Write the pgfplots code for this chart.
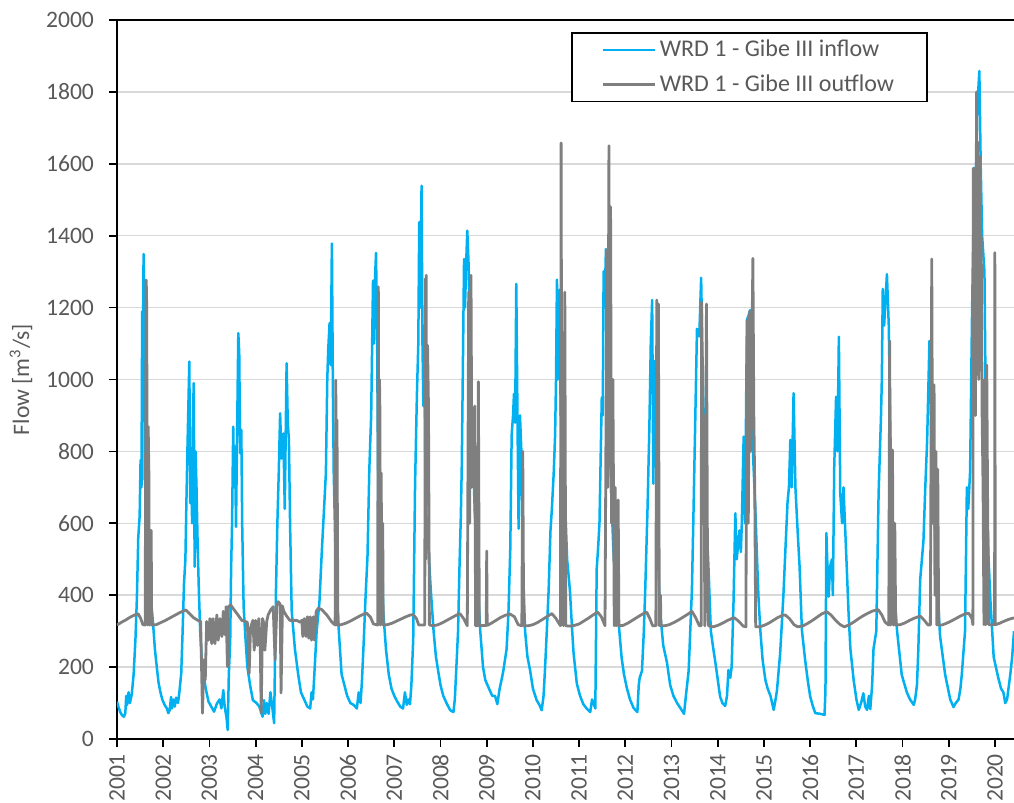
\documentclass[border=0pt]{standalone}
\usepackage{fontspec}
\setmainfont{Carlito}
\usepackage{pgfplots}
\usepackage{pgfplotstable}
\pgfplotsset{compat=1.18}

\definecolor{inflowblue}{HTML}{00B0F0}
\definecolor{outflowgray}{HTML}{7F7F7F}
\definecolor{labelgray}{HTML}{595959}
\definecolor{gridgray}{HTML}{D9D9D9}

% WRD 1 - Gibe III inflow (m3/s)
\pgfplotstableread{
t q
2001.000 104
2001.030 90
2001.070 75
2001.110 66
2001.150 62
2001.180 72
2001.200 120
2001.220 95
2001.250 130
2001.280 100
2001.320 125
2001.360 180
2001.400 280
2001.430 390
2001.460 560
2001.490 620
2001.510 776
2001.530 700
2001.545 1189
2001.560 1050
2001.575 1349
2001.590 1200
2001.600 720
2001.615 1150
2001.630 880
2001.650 750
2001.670 560
2001.700 430
2001.740 380
2001.780 322
2001.820 250
2001.860 201
2001.900 156
2001.940 130
2001.980 110
2002.030 95
2002.080 85
2002.110 72
2002.140 80
2002.170 117
2002.190 85
2002.220 110
2002.250 90
2002.280 115
2002.320 100
2002.350 130
2002.390 183
2002.420 300
2002.450 433
2002.480 500
2002.500 646
2002.520 780
2002.540 900
2002.565 1050
2002.585 656
2002.605 800
2002.625 600
2002.645 900
2002.660 990
2002.680 479
2002.700 800
2002.720 702
2002.745 540
2002.770 420
2002.800 300
2002.830 229
2002.870 183
2002.920 140
2002.980 104
2003.040 90
2003.100 76
2003.160 98
2003.220 110
2003.260 85
2003.300 136
2003.330 90
2003.370 60
2003.395 25
2003.420 180
2003.450 275
2003.470 480
2003.490 600
2003.515 869
2003.535 700
2003.555 813
2003.575 590
2003.600 860
2003.625 1129
2003.645 1073
2003.665 795
2003.690 860
2003.710 590
2003.740 368
2003.780 280
2003.820 201
2003.880 150
2003.940 108
2004.020 100
2004.080 90
2004.150 62
2004.180 108
2004.210 70
2004.240 100
2004.280 70
2004.320 130
2004.350 100
2004.400 44
2004.440 414
2004.470 600
2004.500 740
2004.530 906
2004.560 780
2004.600 850
2004.630 640
2004.670 1045
2004.695 880
2004.720 832
2004.745 600
2004.780 357
2004.850 250
2004.920 180
2004.980 130
2005.050 110
2005.120 90
2005.180 85
2005.210 130
2005.240 110
2005.270 180
2005.320 300
2005.380 380
2005.430 517
2005.480 640
2005.520 740
2005.550 1000
2005.570 1082
2005.600 1157
2005.625 1040
2005.650 1378
2005.670 1000
2005.690 740
2005.720 560
2005.750 414
2005.800 300
2005.860 180
2005.920 150
2005.980 120
2006.050 100
2006.120 95
2006.190 85
2006.230 130
2006.270 100
2006.300 160
2006.340 275
2006.380 400
2006.420 507
2006.460 750
2006.500 900
2006.540 1275
2006.560 1100
2006.580 1270
2006.605 1352
2006.630 1100
2006.655 600
2006.680 850
2006.700 500
2006.730 600
2006.760 357
2006.820 250
2006.880 180
2006.940 140
2007.000 120
2007.060 105
2007.130 90
2007.190 85
2007.230 130
2007.270 95
2007.300 110
2007.340 97
2007.370 150
2007.410 278
2007.450 710
2007.490 960
2007.520 1100
2007.540 1438
2007.565 1200
2007.590 1539
2007.610 1100
2007.630 926
2007.650 1150
2007.670 800
2007.700 600
2007.740 528
2007.790 414
2007.850 301
2007.900 230
2007.950 189
2008.000 150
2008.060 120
2008.130 100
2008.210 80
2008.280 75
2008.310 110
2008.340 190
2008.380 300
2008.410 473
2008.440 620
2008.460 757
2008.490 1100
2008.510 1335
2008.530 1200
2008.560 1340
2008.580 1414
2008.610 1313
2008.630 1150
2008.660 1000
2008.710 757
2008.750 600
2008.790 473
2008.860 301
2008.920 200
2008.970 164
2009.050 140
2009.120 120
2009.180 120
2009.230 97
2009.280 140
2009.330 170
2009.360 190
2009.430 250
2009.470 350
2009.510 528
2009.540 846
2009.570 900
2009.590 960
2009.615 880
2009.640 1266
2009.665 900
2009.690 585
2009.720 900
2009.750 800
2009.780 500
2009.830 301
2009.880 230
2009.940 190
2010.000 140
2010.080 108
2010.140 95
2010.190 80
2010.230 120
2010.260 190
2010.300 300
2010.340 414
2010.380 580
2010.410 640
2010.450 740
2010.480 846
2010.500 1000
2010.520 1278
2010.540 1000
2010.560 1100
2010.580 1250
2010.600 900
2010.630 1000
2010.660 800
2010.700 642
2010.740 500
2010.800 414
2010.850 300
2010.880 238
2010.950 154
2011.020 120
2011.090 97
2011.160 85
2011.240 75
2011.280 110
2011.310 100
2011.350 85
2011.380 473
2011.410 530
2011.440 600
2011.470 812
2011.490 950
2011.510 900
2011.530 1301
2011.550 1200
2011.580 1363
2011.600 1330
2011.620 1200
2011.650 900
2011.690 700
2011.740 528
2011.790 420
2011.850 330
2011.920 225
2011.970 180
2012.030 143
2012.100 110
2012.180 86
2012.260 75
2012.290 150
2012.310 170
2012.360 190
2012.400 300
2012.430 414
2012.480 642
2012.520 869
2012.550 1100
2012.580 1221
2012.605 710
2012.630 1051
2012.660 800
2012.690 642
2012.720 450
2012.750 356
2012.820 260
2012.900 213
2012.970 150
2013.040 120
2013.120 100
2013.190 86
2013.270 70
2013.310 120
2013.370 190
2013.440 414
2013.470 600
2013.510 869
2013.550 1141
2013.600 1120
2013.640 1283
2013.680 983
2013.730 699
2013.770 563
2013.800 473
2013.850 300
2013.910 245
2013.950 211
2014.050 118
2014.100 100
2014.160 92
2014.200 120
2014.230 192
2014.270 170
2014.300 200
2014.340 378
2014.380 628
2014.410 500
2014.440 540
2014.470 580
2014.500 520
2014.520 600
2014.560 841
2014.590 600
2014.630 1165
2014.670 1180
2014.700 1193
2014.730 900
2014.760 800
2014.810 650
2014.850 500
2014.880 396
2014.920 303
2014.970 220
2015.030 164
2015.080 140
2015.140 120
2015.210 81
2015.250 110
2015.280 134
2015.350 239
2015.420 400
2015.460 517
2015.510 660
2015.540 700
2015.570 832
2015.600 700
2015.640 962
2015.680 700
2015.730 573
2015.770 480
2015.820 303
2015.890 220
2015.950 160
2016.000 118
2016.060 90
2016.110 72
2016.220 70
2016.310 67
2016.330 134
2016.350 573
2016.380 450
2016.400 396
2016.430 480
2016.470 500
2016.490 400
2016.520 757
2016.560 952
2016.590 800
2016.620 1119
2016.650 684
2016.690 600
2016.720 700
2016.790 480
2016.830 350
2016.870 250
2016.940 164
2017.000 110
2017.050 81
2017.100 100
2017.150 127
2017.190 90
2017.230 81
2017.270 120
2017.300 83
2017.340 150
2017.370 251
2017.430 300
2017.480 684
2017.530 890
2017.550 1000
2017.570 1252
2017.600 1150
2017.620 1200
2017.660 1293
2017.700 1150
2017.730 900
2017.770 560
2017.800 444
2017.880 300
2017.980 179
2018.090 130
2018.160 110
2018.240 95
2018.270 110
2018.310 150
2018.340 250
2018.380 444
2018.450 550
2018.490 700
2018.530 829
2018.580 1107
2018.620 860
2018.670 700
2018.700 560
2018.740 444
2018.810 286
2018.920 179
2019.030 110
2019.100 89
2019.150 100
2019.210 110
2019.250 140
2019.280 179
2019.350 300
2019.390 700
2019.420 640
2019.460 745
2019.500 1165
2019.550 1588
2019.580 1500
2019.610 1744
2019.660 1858
2019.690 1588
2019.720 1400
2019.770 1300
2019.800 900
2019.820 684
2019.860 500
2019.900 384
2019.970 228
2020.070 170
2020.130 140
2020.180 130
2020.220 100
2020.260 110
2020.300 150
2020.330 180
2020.370 228
2020.410 300
}\inflow

% WRD 1 - Gibe III outflow (m3/s)
\pgfplotstableread{
t q
2001.000 317
2001.100 325
2001.200 332
2001.300 340
2001.400 346
2001.460 348
2001.510 336
2001.560 318
2001.610 317
2001.630 1277
2001.640 1240
2001.655 740
2001.665 317
2001.675 869
2001.690 740
2001.700 317
2001.720 580
2001.740 580
2001.750 317
2001.850 318
2001.950 324
2002.050 330
2002.150 337
2002.250 344
2002.350 351
2002.490 359
2002.560 350
2002.650 338
2002.750 330
2002.810 327
2002.850 72
2002.880 220
2002.910 164
2002.940 327
2002.980 275
2003.010 335
2003.050 265
2003.080 335
2003.120 265
2003.160 345
2003.190 275
2003.230 335
2003.270 285
2003.300 355
2003.340 290
2003.360 368
2003.390 201
2003.410 368
2003.460 373
2003.520 362
2003.590 350
2003.700 330
2003.820 325
2003.860 183
2003.890 310
2003.940 330
2003.970 247
2004.000 330
2004.040 260
2004.070 335
2004.100 265
2004.120 72
2004.150 335
2004.180 320
2004.200 247
2004.240 327
2004.270 345
2004.330 360
2004.380 368
2004.420 220
2004.460 373
2004.490 382
2004.530 375
2004.550 128
2004.580 370
2004.610 355
2004.670 342
2004.740 330
2004.890 330
2004.960 325
2005.000 330
2005.020 285
2005.050 335
2005.090 285
2005.120 340
2005.150 280
2005.180 340
2005.210 275
2005.250 340
2005.270 275
2005.310 355
2005.360 364
2005.430 360
2005.540 345
2005.650 325
2005.720 317
2005.735 998
2005.745 317
2005.760 887
2005.770 600
2005.780 317
2005.850 318
2005.950 322
2006.050 328
2006.150 335
2006.250 342
2006.350 348
2006.400 350
2006.480 340
2006.550 320
2006.640 317
2006.655 1258
2006.665 700
2006.680 1000
2006.690 906
2006.700 317
2006.715 740
2006.730 500
2006.750 600
2006.760 317
2006.850 318
2006.950 322
2007.050 328
2007.150 334
2007.250 340
2007.350 345
2007.410 346
2007.480 335
2007.530 317
2007.660 317
2007.670 1280
2007.680 500
2007.690 1290
2007.700 700
2007.720 1095
2007.740 926
2007.760 317
2007.850 315
2007.950 318
2008.050 324
2008.150 331
2008.250 338
2008.350 345
2008.420 349
2008.500 335
2008.580 315
2008.610 1243
2008.630 600
2008.660 1290
2008.680 700
2008.710 850
2008.740 926
2008.760 315
2008.800 315
2008.820 994
2008.840 315
2008.990 316
2009.000 523
2009.010 316
2009.100 322
2009.200 330
2009.300 338
2009.400 344
2009.500 348
2009.600 340
2009.680 318
2009.760 315
2009.780 800
2009.800 315
2009.900 315
2010.000 318
2010.100 324
2010.200 332
2010.300 340
2010.410 349
2010.500 335
2010.595 315
2010.610 1658
2010.625 700
2010.640 1000
2010.660 315
2010.690 1243
2010.710 315
2010.800 314
2010.900 316
2011.000 320
2011.100 328
2011.200 336
2011.300 345
2011.400 353
2011.480 340
2011.560 315
2011.600 1360
2011.620 700
2011.645 1650
2011.660 900
2011.680 1480
2011.700 600
2011.730 1000
2011.760 315
2011.780 700
2011.800 315
2011.845 665
2011.860 315
2011.950 316
2012.050 322
2012.150 330
2012.250 338
2012.350 346
2012.460 353
2012.530 335
2012.590 315
2012.660 315
2012.680 1221
2012.695 500
2012.715 1210
2012.735 315
2012.760 400
2012.770 315
2012.850 315
2012.950 318
2013.050 324
2013.150 331
2013.250 339
2013.350 347
2013.440 355
2013.520 338
2013.600 315
2013.640 315
2013.650 1215
2013.670 700
2013.700 900
2013.720 315
2013.755 1210
2013.780 400
2013.800 315
2013.900 312
2014.000 316
2014.100 322
2014.200 329
2014.300 335
2014.360 337
2014.450 328
2014.550 314
2014.610 312
2014.620 841
2014.640 1165
2014.660 600
2014.690 1190
2014.710 800
2014.760 1337
2014.780 900
2014.800 700
2014.820 312
2014.900 312
2015.000 316
2015.100 322
2015.200 330
2015.300 338
2015.400 344
2015.460 345
2015.550 335
2015.650 318
2015.730 312
2015.850 315
2015.950 322
2016.050 330
2016.150 339
2016.250 348
2016.360 354
2016.450 345
2016.550 330
2016.650 318
2016.740 312
2016.850 318
2016.950 326
2017.050 335
2017.150 343
2017.250 350
2017.350 356
2017.470 360
2017.550 345
2017.620 325
2017.700 317
2017.720 1107
2017.740 317
2017.780 804
2017.800 317
2017.830 600
2017.850 317
2017.950 318
2018.050 323
2018.150 330
2018.250 336
2018.380 342
2018.470 330
2018.550 317
2018.600 317
2018.630 1335
2018.650 600
2018.680 985
2018.700 400
2018.720 800
2018.740 317
2018.760 750
2018.780 317
2018.850 317
2018.950 322
2019.050 328
2019.150 335
2019.250 342
2019.350 348
2019.430 350
2019.500 335
2019.520 318
2019.530 1588
2019.545 1200
2019.560 1400
2019.575 900
2019.600 1800
2019.615 1300
2019.630 1660
2019.645 1000
2019.660 1620
2019.680 1200
2019.700 1400
2019.720 900
2019.740 700
2019.760 318
2019.780 1000
2019.800 318
2019.820 1040
2019.840 637
2019.860 318
2019.990 318
2019.995 1353
2020.005 318
2020.100 322
2020.200 328
2020.300 333
2020.410 337
}\outflow

\begin{document}
\begin{tikzpicture}
\begin{axis}[
    name=ax,
    at={(0,0)}, anchor=south west,
    scale only axis,
    width=448.5pt, height=359.5pt,
    xmin=2001, xmax=2020.41,
    ymin=0, ymax=2000,
    axis x line*=box, axis y line*=left,
    axis line style={black, line width=1pt, -},
    xtick={2001,...,2020},
    ytick={0,200,...,2000},
    tick pos=left,
    tick align=outside,
    major tick length=4pt,
    tick style={black, line width=0.9pt},
    ymajorgrids,
    grid style={gridgray, line width=0.75pt},
    tick label style={font=\fontsize{11.8}{13}\selectfont, text=labelgray},
    /pgf/number format/1000 sep={},
    /pgf/number format/assume math mode=true,
    x tick label style={rotate=90, anchor=east},
    y tick label style={xshift=-4pt},
    ylabel={Flow [m\textsuperscript{3}/s]},
    every axis y label/.style={at={(axis description cs:-0.107,0.5)}, rotate=90, anchor=center,
        font=\fontsize{11.8}{13}\selectfont, text=labelgray},
    legend cell align=left,
    legend style={at={(0.904,0.983)}, anchor=north east, draw=black, line width=0.75pt,
        fill=white, font=\fontsize{12}{13}\selectfont, text=labelgray,
        inner xsep=15pt, inner ysep=1.5pt, row sep=3.5pt,
        nodes={inner xsep=1.5pt}},
    legend image code/.code={\draw[#1] (0pt,0pt) -- (26pt,0pt);},
]
\addplot[inflowblue, line width=1.25pt, line join=round] table[x=t, y=q] {\inflow};
\addlegendentry{WRD 1 - Gibe III inflow}
\addplot[outflowgray, line width=1.4pt, line join=round] table[x=t, y=q] {\outflow};
\addlegendentry{WRD 1 - Gibe III outflow}
\end{axis}
\pgfresetboundingbox
\path[use as bounding box] ([xshift=-58.5pt, yshift=-31.5pt]ax.south west) rectangle ([yshift=10pt]ax.north east);
\end{tikzpicture}
\end{document}
